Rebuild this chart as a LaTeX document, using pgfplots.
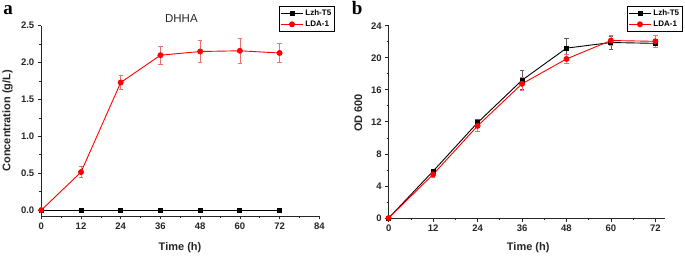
\documentclass[border=0pt]{standalone}
\usepackage{pgfplots}
\pgfplotsset{compat=1.18}
\usepackage{fontspec}
\setmainfont{Liberation Sans}
\newfontfamily\serifb{Liberation Serif}
\definecolor{myred}{RGB}{255,0,0}
\definecolor{errred}{RGB}{240,110,110}
\definecolor{errgray}{RGB}{90,90,90}
\pgfplotsset{
  myaxis/.style={
    scale only axis,
    axis lines*=left,
    axis line style={line width=0.8bp, black!85},
    tick align=outside,
    major tick length=3.5bp,
    minor tick length=2bp,
    tick style={line width=0.7bp, black!85},
    minor tick num=1,
    /pgf/number format/assume math mode=true,
    tick label style={font=\fontsize{9.5bp}{11bp}\selectfont\bfseries, text=black!85},
    label style={font=\fontsize{11bp}{13bp}\selectfont\bfseries, text=black!85},
    clip=false,
    legend cell align=left,
    legend style={draw=black, line width=0.6bp, font=\fontsize{8bp}{9.5bp}\selectfont\bfseries,
      inner sep=1.5bp, row sep=0bp, anchor=north east},
    legend image code/.code={\draw[#1, mark repeat=2, mark phase=2] plot coordinates {(0bp,0bp) (11bp,0bp) (22bp,0bp)};},
  },
  blk/.style={black, line width=0.9bp, mark=square*, mark size=2bp, mark options={solid},
    error bars/.cd, y dir=both, y explicit,
    error bar style={line width=0.7bp, color=errgray},
    error mark options={rotate=90, line width=0.7bp, mark size=2.2bp, color=errgray}},
  rd/.style={myred, line width=0.9bp, mark=*, mark size=2.5bp, mark options={solid},
    error bars/.cd, y dir=both, y explicit,
    error bar style={line width=0.7bp, color=errred},
    error mark options={rotate=90, line width=0.7bp, mark size=2.2bp, color=errred}},
}
\begin{document}
\begin{tikzpicture}
\path[use as bounding box] (0bp,0bp) rectangle (685bp,256bp);
% panel a
\begin{axis}[myaxis,
  at={(41.3bp,40bp)}, anchor=south west,
  width=278bp, height=190.3bp,
  xmin=0, xmax=84, ymin=-0.08, ymax=2.5,
  xtick={0,12,...,84}, ytick={0,0.5,...,2.5},
  yticklabel style={/pgf/number format/.cd, fixed, fixed zerofill, precision=1},
  xlabel={Time (h)}, ylabel={Concentration (g/L)},
  xlabel style={at={(axis description cs:0.499,-0.168)}, anchor=center},
  ylabel style={at={(axis description cs:-0.1216,0.5)}, anchor=center},
  legend style={at={(1.0565,1.105)}},
]
\addplot+[blk] coordinates {(0,0) +- (0,0) (12,0) +- (0,0) (24,0) +- (0,0) (36,0) +- (0,0) (48,0) +- (0,0) (60,0) +- (0,0) (72,0) +- (0,0)};
\addlegendentry{Lzh-T5}
\addplot+[rd] coordinates {(0,0) +- (0,0) (12,0.515) +- (0,0.075) (24,1.73) +- (0,0.095) (36,2.10) +- (0,0.12) (48,2.15) +- (0,0.145) (60,2.16) +- (0,0.17) (72,2.13) +- (0,0.13)};
\addlegendentry{LDA-1}
\node[font=\fontsize{11.5bp}{13bp}\selectfont, text=black!85, anchor=center] at (axis description cs:0.504,1.035) {DHHA};
\end{axis}
% panel b
\begin{axis}[myaxis,
  at={(388.7bp,38bp)}, anchor=south west,
  width=276.3bp, height=192.3bp,
  xmin=0, xmax=74.6, ymin=0, ymax=24,
  xtick={0,12,...,72}, ytick={0,4,...,24},
  xlabel={Time (h)}, ylabel={OD 600},
  xlabel style={at={(axis description cs:0.505,-0.156)}, anchor=center},
  ylabel style={at={(axis description cs:-0.110,0.546)}, anchor=center},
  legend style={at={(1.065,1.104)}},
]
\addplot+[blk] coordinates {(0,0) +- (0,0) (12,5.85) +- (0,0.25) (24,11.9) +- (0,0.35) (36,17.2) +- (0,1.2) (48,21.2) +- (0,1.2) (60,21.9) +- (0,0.8) (72,21.8) +- (0,0.55)};
\addlegendentry{Lzh-T5}
\addplot+[rd] coordinates {(0,0) +- (0,0) (12,5.45) +- (0,0.35) (24,11.5) +- (0,0.65) (36,16.75) +- (0,0.85) (48,19.85) +- (0,0.6) (60,22.15) +- (0,0.65) (72,22.05) +- (0,0.75)};
\addlegendentry{LDA-1}
\end{axis}
\node[font=\serifb\bfseries\fontsize{19bp}{20bp}\selectfont, anchor=base west, inner sep=0] at (3.3bp,241bp) {a};
\node[font=\serifb\bfseries\fontsize{19bp}{20bp}\selectfont, anchor=base west, inner sep=0] at (351.7bp,241bp) {b};
\end{tikzpicture}
\end{document}
